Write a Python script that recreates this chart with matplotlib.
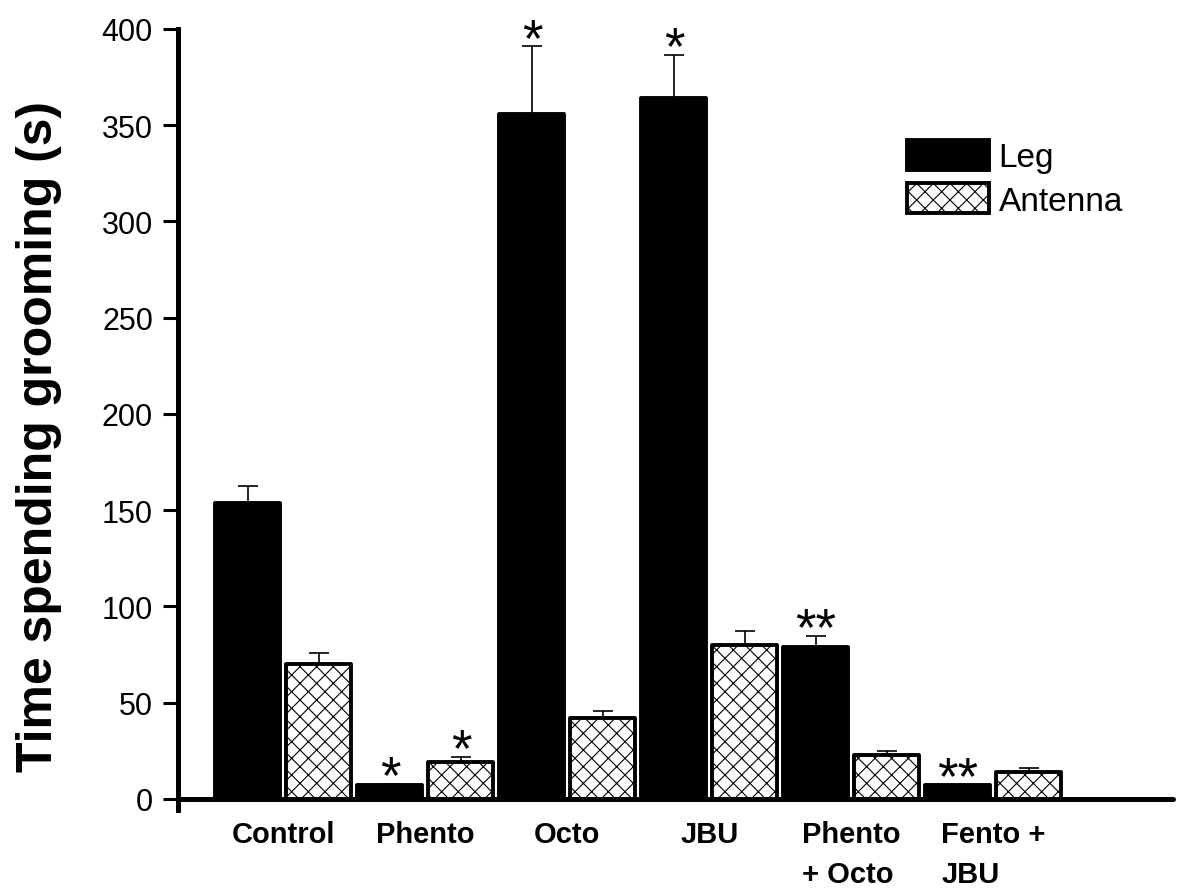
import matplotlib
matplotlib.use('Agg')
import matplotlib.pyplot as plt
import numpy as np

plt.rcParams['font.family'] = ['Liberation Sans', 'DejaVu Sans']
plt.rcParams['hatch.linewidth'] = 0.8

groups = ['Control', 'Phento', 'Octo', 'JBU', 'Phento\n+ Octo', 'Fento +\nJBU']
leg = [154, 7, 356, 364, 79, 7]
leg_err = [8.5, 1, 35, 22.5, 5.7, 0.5]
antenna = [70, 19, 42, 80, 23, 14]
antenna_err = [6, 3, 3.7, 7.5, 1.8, 2]
leg_stars = ['', '*', '*', '*', '**', '**']
antenna_stars = ['', '*', '', '', '', '']

fig = plt.figure(figsize=(11.77, 8.95), dpi=100)
ax = fig.add_axes([0.1512, 0.0933, 0.8454, 0.8732])

for s in ['top', 'right']:
    ax.spines[s].set_visible(False)
ax.spines['left'].set_linewidth(3.6)
ax.spines['bottom'].set_linewidth(3.6)
ax.spines['bottom'].set_position(('data', 0))
ax.spines['bottom'].set_capstyle('round')

idx = np.arange(len(groups))
x_leg = idx * 2
x_ant = idx * 2 + 1
w = 0.915

ax.bar(x_leg, leg, width=w, color='black', edgecolor='black', linewidth=2.8,
       joinstyle='round', label='Leg', zorder=2)
ax.bar(x_ant, antenna, width=w, color='white', edgecolor='black', linewidth=2.8,
       hatch='xx', joinstyle='round', label='Antenna', zorder=2)

ax.errorbar(x_leg, leg, yerr=[np.zeros(len(leg)), leg_err], fmt='none',
            ecolor='black', elinewidth=1.2, capsize=7, capthick=1.2, zorder=1)
ax.errorbar(x_ant, antenna, yerr=[np.zeros(len(antenna)), antenna_err], fmt='none',
            ecolor='black', elinewidth=1.2, capsize=7, capthick=1.2, zorder=1)

# significance stars
for xs, vals, errs, stars in [(x_leg, leg, leg_err, leg_stars),
                              (x_ant, antenna, antenna_err, antenna_stars)]:
    for xx, v, e, s in zip(xs, vals, errs, stars):
        if s:
            ax.annotate(s, (xx, v + e), xytext=(0, 4), textcoords='offset points',
                        ha='center', va='center', fontsize=38)

ax.set_xlim(-0.986, 13.03)
ax.set_ylim(-6, 400)
ax.set_yticks(np.arange(0, 401, 50))
ax.set_xticks(idx * 2 + 0.5)
ax.set_xticklabels(groups, fontsize=21, fontweight='bold', multialignment='left',
                   va='top', linespacing=1.55)
ax.tick_params(axis='x', length=0, pad=15)
ax.tick_params(axis='y', direction='out', length=11, width=2.2, labelsize=22, pad=7)

ax.set_ylabel('Time spending grooming (s)', fontsize=36, fontweight='bold')
ax.yaxis.set_label_coords(-0.117, 0.48)

ax.legend(loc='upper left', bbox_to_anchor=(0.7706, 1 - 141 / 895),
          bbox_transform=fig.transFigure, frameon=False, fontsize=24,
          handlelength=2.45, handleheight=1.0, handletextpad=0.3,
          labelspacing=0.3, borderpad=0, borderaxespad=0)

fig.savefig('out.png', dpi=100)
